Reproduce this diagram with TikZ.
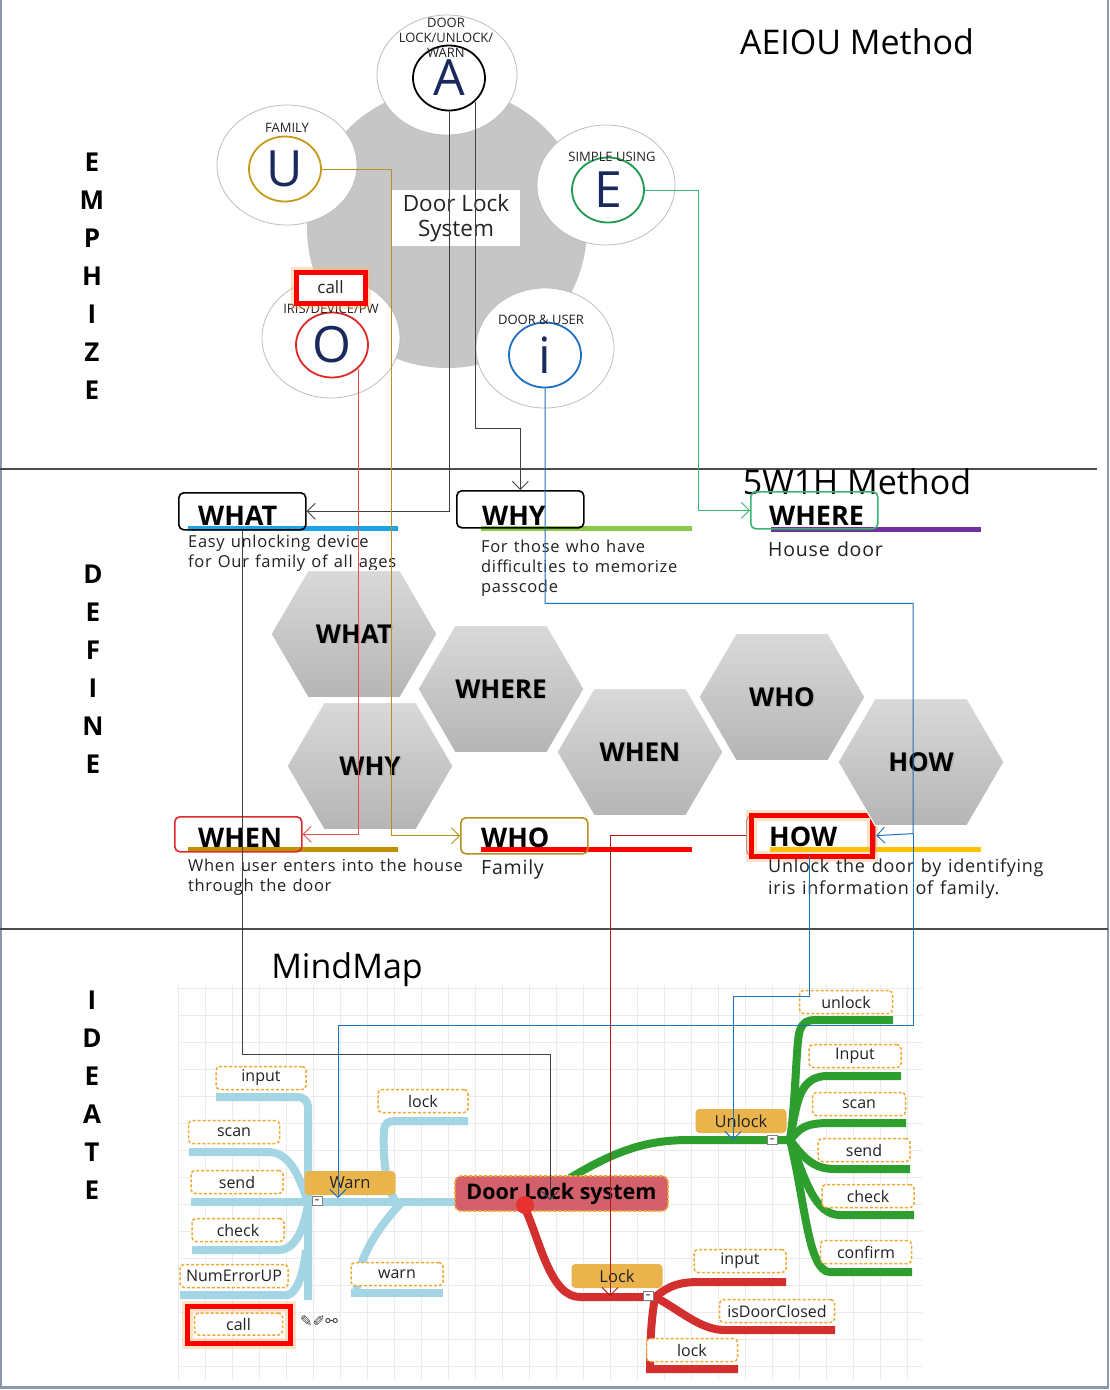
\documentclass[tikz,border=0pt]{standalone}
\usepackage{fontspec}
\setmainfont{Open Sans}
\newfontfamily\spaced{Open Sans}[LetterSpace=4,WordSpace=1.25]
\newfontfamily\dejavu{DejaVu Sans}
\usetikzlibrary{arrows.meta,calc,shapes.geometric}
\definecolor{navy}{HTML}{1B2A5E}
\definecolor{cgrey}{HTML}{C6C6C6}
\definecolor{rimgrey}{HTML}{BDBDBD}
\definecolor{ugold}{HTML}{C49A1A}
\definecolor{egreen}{HTML}{1E9A52}
\definecolor{ored}{HTML}{E02828}
\definecolor{iblue}{HTML}{1F6FC0}
\definecolor{lgold}{HTML}{B8901C}
\definecolor{lred}{HTML}{E05050}
\definecolor{lgreen}{HTML}{3CB371}
\definecolor{lblue}{HTML}{1F6FBF}
\definecolor{dred}{HTML}{B01C1C}
\definecolor{agrey}{HTML}{404040}
\definecolor{barblue}{HTML}{1AA3E8}
\definecolor{bargreen}{HTML}{8CC84B}
\definecolor{barpurple}{HTML}{7030A0}
\definecolor{bargold}{HTML}{C09000}
\definecolor{barred}{HTML}{FF0000}
\definecolor{baryellow}{HTML}{FFC000}
\definecolor{hexlight}{HTML}{D9D9D9}
\definecolor{hexdark}{HTML}{B5B5B5}
\definecolor{wbranch}{HTML}{A3D5E5}
\definecolor{ubranch}{HTML}{2E9E2E}
\definecolor{lbranch}{HTML}{D32F2F}
\definecolor{catfill}{HTML}{E9B44C}
\definecolor{dlsfill}{HTML}{D4606C}
\definecolor{dashor}{HTML}{F0A830}
\definecolor{gridc}{HTML}{EBEBEB}
\definecolor{framec}{HTML}{8A98AC}
\definecolor{txt}{HTML}{222222}
\definecolor{dotred}{HTML}{E83232}
\begin{document}
\begin{tikzpicture}[x=1pt,y=-1pt,
  sidel/.style={font=\fontsize{26}{26}\selectfont\bfseries,text=black,inner sep=0},
  ttl/.style={font=\fontsize{34}{34}\selectfont,text=black,inner sep=0},
  lbl/.style={font=\fontsize{13}{15}\selectfont,align=center,text=txt,inner sep=0},
  outer/.style={ellipse,draw=rimgrey,fill=white,line width=0.8,minimum width=#1,minimum height=120,inner sep=0},
  inner/.style={ellipse,draw=#1,line width=1.8,minimum width=72,minimum height=65,inner sep=0,
     font=\fontsize{50}{50}\selectfont,text=navy},
  hbox/.style={draw=#1,rounded corners=5,line width=1.6,inner sep=0,minimum width=127,minimum height=37},
  htitle/.style={font=\fontsize{27}{27}\selectfont\bfseries,text=black,inner sep=0,anchor=base west},
  dtext/.style={font=\spaced\fontsize{16.5}{20}\selectfont,text=txt,align=left,inner sep=0,anchor=north west},
  bar/.style={line width=5,draw=#1},
  hext/.style={font=\fontsize{26}{26}\selectfont\bfseries,inner sep=0},
  pics/hexa/.style={code={
    \shade[top color=hexlight,bottom color=hexdark,draw=white,line width=1]
      (-83,0) -- (-46,-63.5) -- (46,-63.5) -- (83,0) -- (46,63.5) -- (-46,63.5) -- cycle;
    \node[hext,text=black!30,xshift=1.5,yshift=-1.5] {#1};
    \node[hext,text=black] {#1};
  }},
  redglow/.style={draw=red,line width=5,preaction={draw=orange!60,line width=11,opacity=0.35}},
  leaf/.style={draw=dashor,dash pattern=on 3pt off 2pt,line width=1.5,fill=white,rounded corners=4,
     minimum height=23,minimum width=#1,inner sep=0,font=\fontsize{16}{16}\selectfont,text=txt},
  cat/.style={fill=catfill,rounded corners=4,minimum height=24,minimum width=91,inner sep=0,
     font=\fontsize{16.5}{16.5}\selectfont,text=txt},
  minusb/.style={draw=black!50,fill=white,minimum width=10,minimum height=9,inner sep=0,
     font=\fontsize{8}{8}\selectfont\bfseries},
  wb/.style={draw=wbranch,line width=8},
  ub/.style={draw=ubranch,line width=8},
  lb/.style={draw=lbranch,line width=8},
  conn/.style={line width=1,-{Straight Barb[length=8pt,width=16pt,line width=0.9pt]}},
]
\useasboundingbox (0,0) rectangle (1109,1390);
\fill[white] (0,0) rectangle (1109,1390);

% ---------------- frame and section lines
\draw[framec,line width=2] (1,0) -- (1,1387);
\draw[framec,line width=2] (1108,0) -- (1108,1387);
\draw[framec,line width=3] (0,1387.5) -- (1109,1387.5);
\draw[black!70,line width=1.2] (0,469) -- (1097,469);
\draw[black!70,line width=1.2] (0,929) -- (1108,929);

% ---------------- side words
\foreach \l [count=\k from 0] in {E,M,P,H,I,Z,E}
  \node[sidel] (emp\k) at (92,162+38*\k) {\l};
\foreach \l [count=\k from 0] in {D,E,F,I,N,E}
  \node[sidel] (def\k) at (93,574+38*\k) {\l};
\foreach \l [count=\k from 0] in {I,D,E,A,T,E}
  \node[sidel] (ide\k) at (92,1000+38*\k) {\l};

% ---------------- titles
\node[ttl] (aeiou) at (857,42) {AEIOU Method};
\node[ttl] (mindmap) at (347,970) {MindMap};

% ---------------- AEIOU diagram
\fill[cgrey] (447,228) circle[radius=140];
\node[outer=140] (Aout) at (447,75) {};
\node[outer=140] (Uout) at (287,165) {};
\node[outer=138] (Eout) at (606,185) {};
\node[outer=138] (Oout) at (331,338) {};
\node[outer=138] (iout) at (545,348) {};
\node[fill=white,minimum width=128,minimum height=56,inner sep=0,align=center,
  font=\fontsize{22.5}{25}\selectfont,text=txt] (dlsT) at (456,218) {Door Lock\\System};
\node[inner=black] (Ain) at (449,78) {A};
\node[inner=ugold] (Uin) at (285,169) {U};
\node[inner=egreen] (Ein) at (608,190) {E};
\node[inner=ored] (Oin) at (332,345) {O};
\node[inner=iblue] (iin) at (545,355) {i};
\node[lbl] (Alab) at (446,38) {DOOR\\LOCK/UNLOCK/\\WARN};
\node[lbl] (Ulab) at (287,128) {FAMILY};
\node[lbl] (Elab) at (612,157) {SIMPLE USING};
\node[lbl] (Olab) at (331,309) {IRIS/DEVICE/PW};
\node[lbl] (ilab) at (541,320) {DOOR \& USER};
\node[redglow,fill=white,minimum width=69,minimum height=31,inner sep=0,
  font=\fontsize{17}{17}\selectfont,text=txt] (callT) at (330.5,287.5) {call};

% ---------------- 5W1H
\node[ttl] (w5h) at (857,482) {5W1H Method};
\draw[bar=barblue] (188,528) -- (398,528);
\draw[bar=bargreen] (481,528) -- (692,528);
\draw[bar=barpurple] (771,529) -- (981,529);
\draw[bar=bargold] (188,849) -- (398,849);
\draw[bar=barred] (481,849) -- (692,849);
\draw[bar=baryellow] (770,849) -- (981,849);

\node[hbox=black,anchor=north west] (whatB) at (178,492) {};
\node[hbox=black,anchor=north west] (whyB) at (456,490) {};
\node[hbox=lgreen,anchor=north west] (whereB) at (750,491) {};
\node[hbox=ored,anchor=north west,minimum height=35] (whenB) at (174,816) {};
\node[hbox=lgold,anchor=north west,minimum height=36] (whoB) at (460,817) {};
\node[hbox=black!45,anchor=north west,minimum width=129,minimum height=40,line width=1.2] (howB) at (746,815) {};

\node[htitle] (whatT) at (198,525) {WHAT};
\node[htitle] (whyT) at (482,525) {WHY};
\node[htitle] (whereT) at (769,525) {WHERE};
\node[htitle] (whenT) at (198,847) {WHEN};
\node[htitle] (whoT) at (481,847) {WHO};
\node[htitle] (howT) at (769,846) {HOW};
\node[redglow,minimum width=121,minimum height=41,inner sep=0] (howR) at (811.5,835.5) {};

\node[dtext] (whatD) at (188,535) {Easy unlocking device\\for Our family of all ages};
\node[dtext] (whyD) at (481,540) {For those who have\\difficulties to memorize\\passcode};
\node[dtext,font=\spaced\fontsize{19.5}{24}\selectfont] (whereD) at (768,541) {House door};
\node[dtext] (whenD) at (188,859) {When user enters into the house\\through the door};
\node[dtext,font=\spaced\fontsize{19.5}{24}\selectfont] (whoD) at (481,859) {Family};
\node[dtext,font=\spaced\fontsize{18}{22}\selectfont] (howD) at (768,859) {Unlock the door by identifying\\iris information of family.};

% hexagons
\pic (hWhat) at (354,634) {hexa=WHAT};
\pic (hWhere) at (501,689) {hexa=WHERE};
\pic (hWhy) at (370,766) {hexa=WHY};
\pic (hWhen) at (640,752) {hexa=WHEN};
\pic (hWho) at (782,697) {hexa=WHO};
\pic (hHow) at (921,762) {hexa=HOW};

% ---------------- MindMap
\foreach \gx in {178,205,...,922} \draw[gridc,line width=0.7] (\gx,985) -- (\gx,1380);
\foreach \gy in {988,1015,...,1380} \draw[gridc,line width=0.7] (178,\gy) -- (922,\gy);

% Warn branch (light blue)
\draw[wb] (455,1202) -- (308,1202);
\draw[wb,rounded corners=10] (216,1097) -- (308,1097) -- (308,1300);
\draw[wb] (189,1152) -- (270,1152) .. controls (292,1154) and (300,1180) .. (308,1202);
\draw[wb] (191,1202) -- (308,1202);
\draw[wb] (192,1250) -- (280,1250) .. controls (298,1248) and (304,1225) .. (308,1205);
\draw[wb] (180,1295) -- (288,1295) .. controls (298,1292) and (304,1270) .. (306,1250);
\draw[wb] (396,1202) .. controls (384,1185) and (383,1150) .. (384,1130) .. controls (385,1123) and (388,1121) .. (395,1121) -- (468,1121);
\draw[wb] (402,1202) .. controls (380,1225) and (360,1255) .. (358,1280) -- (356,1293);
\draw[wb] (351,1293) -- (443,1293);

% Unlock branch (green)
\draw[ub] (570,1178) .. controls (620,1148) and (650,1140) .. (690,1140) -- (790,1140);
\draw[ub] (790,1140) .. controls (796,1100) and (796,1040) .. (800,1030) .. controls (803,1022) and (808,1020) .. (815,1020) -- (893,1020);
\draw[ub] (790,1140) .. controls (797,1100) and (800,1078) .. (825,1076) -- (901,1076);
\draw[ub] (790,1140) .. controls (800,1128) and (805,1123) .. (830,1123) -- (906,1123);
\draw[ub] (790,1140) .. controls (805,1160) and (815,1169) .. (835,1169) -- (910,1169);
\draw[ub] (790,1140) .. controls (805,1180) and (815,1215) .. (840,1215) -- (914,1215);
\draw[ub] (790,1140) .. controls (805,1200) and (808,1272) .. (830,1272) -- (912,1272);

% Lock branch (red)
\draw[lb] (524,1206) .. controls (540,1240) and (550,1297) .. (580,1297) -- (655,1297);
\draw[lb] (655,1297) .. controls (670,1285) and (680,1282) .. (700,1282) -- (786,1282);
\draw[lb] (655,1297) .. controls (680,1310) and (700,1330) .. (725,1330) -- (835,1330);
\draw[lb] (655,1297) .. controls (651,1320) and (650,1345) .. (650,1369) -- (738,1369);

% mindmap nodes
\node[fill=dlsfill,draw=dashor,dash pattern=on 3pt off 2pt,line width=1.6,rounded corners=6,
  minimum width=213,minimum height=35,inner sep=0,font=\fontsize{21.5}{21.5}\selectfont\bfseries,text=black] (dls) at (561.5,1193.5) {Door Lock system};
\fill[dotred] (525,1205) circle[radius=9];
\node[cat] (warnC) at (350,1183) {Warn};
\node[cat] (unlockC) at (741,1121) {Unlock};
\node[cat] (lockC) at (617,1276) {Lock};
\node[minusb] (mW) at (317,1201) {--};
\node[minusb] (mU) at (772,1140) {--};
\node[minusb] (mL) at (648,1296) {--};

\node[leaf=90] (l1) at (261,1078) {input};
\node[leaf=91] (l2) at (234,1132) {scan};
\node[leaf=92] (l3) at (237,1182) {send};
\node[leaf=92] (l4) at (238,1230) {check};
\node[leaf=108] (l5) at (234,1276) {NumErrorUP};
\node[redglow,minimum width=103,minimum height=37,inner sep=0] (callR) at (238.5,1324.5) {};
\node[leaf=88,minimum height=22] (l6) at (238.5,1324) {call};
\node[font=\dejavu\fontsize{15}{15}\selectfont,text=black!75,inner sep=0] (icons) at (319,1321) {✎✐⚯};
\node[leaf=90] (l7) at (423,1101) {lock};
\node[leaf=92] (l8) at (397,1274) {warn};

\node[leaf=93] (u1) at (846,1002) {unlock};
\node[leaf=92] (u2) at (855,1056) {Input};
\node[leaf=93] (u3) at (859,1104) {scan};
\node[leaf=92] (u4) at (864,1150) {send};
\node[leaf=92] (u5) at (868,1196) {check};
\node[leaf=91] (u6) at (866,1252) {confirm};

\node[leaf=92] (k1) at (740,1261) {input};
\node[leaf=115] (k2) at (777,1311) {isDoorClosed};
\node[leaf=91] (k3) at (692,1350) {lock};

\coordinate (warnTip) at (338,1198);
\coordinate (unlockTip) at (733,1140);
\coordinate (lockTip) at (610,1296);
\coordinate (dlsTip) at (550,1200);
\coordinate (howJ) at ($(howB.east)+(37,-2)$);

% ---------------- connectors
\draw[conn,agrey] (Ain.south) |- (whatB.east);
\draw[conn,agrey] (Ain.south east) -- ++(0,327) -| (whyB.north);
\draw[conn,lgold] (Uin.east) -- ++(70,0) |- (whoB.west);
\draw[conn,lred] (Oin.south east) |- (whenB.east);
\draw[conn,lgreen] (Ein.east) -- ++(54,0) |- (whereB.west);
\draw[conn,lblue] (iin.south) -- ++(0,215) -| (howJ) -- (howB.east);
\draw[conn,lblue] (howJ) -- ++(0,192) -| (warnTip);
\draw[conn,lblue] ([xshift=-1.5]howB.south) -- ++(0,140) -| (unlockTip);
\draw[conn,dred] (howB.west) -| (lockTip);
\draw[conn,agrey] (whatB.south) -- ++(0,524) -| (dlsTip);
\end{tikzpicture}
\end{document}
